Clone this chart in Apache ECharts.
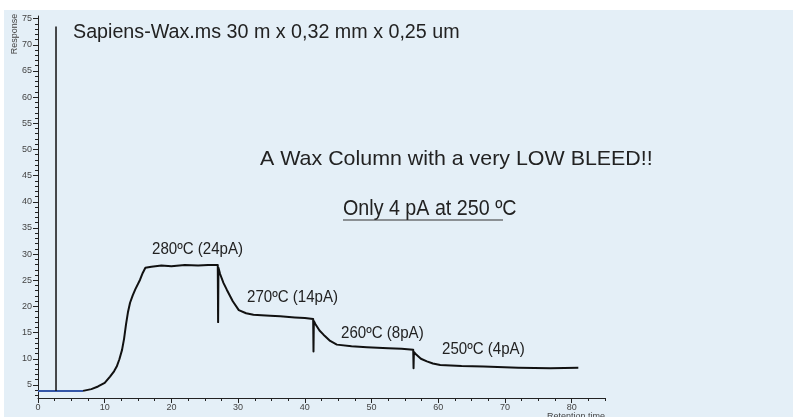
<!DOCTYPE html>
<html>
<head>
<meta charset="utf-8">
<script src="https://cdn.jsdelivr.net/npm/echarts@6/dist/echarts.min.js"></script>
<style>html,body{margin:0;padding:0;background:#fff;}#c{width:793px;height:417px;}</style>
</head>
<body>
<div id="c"></div>
<script>
// ---- data ----
const blueTime = [0, 6.75];
const blueResponse = [3.86, 3.86];
const spikeTime = [2.7, 2.7];
const spikeResponse = [3.86, 73.5];
const retentionTime = [6.75, 8, 9, 10, 10.8, 11.4, 11.8, 12.2, 12.6, 12.9, 13.2, 13.5, 13.8, 14.2, 14.6, 15.3, 15.7, 16.1, 17, 18.5, 20, 22, 24, 25.5, 26.95,
  27.0, 27.05, 27.3, 27.8, 28.3, 29.2, 30.1, 31.2, 32.3, 33.5, 34.8, 36.3, 38.5, 40, 41.25,
  41.3, 41.35, 41.6, 42.2, 42.8, 43.8, 44.8, 47, 49.3, 52.5, 54.5, 56.25,
  56.3, 56.35, 56.7, 57.4, 58.3, 59.2, 60.3, 63.5, 66.8, 72, 76.8, 81.0];
const responseValues = [3.86, 4.2, 4.7, 5.4, 6.6, 7.6, 8.5, 9.9, 11.7, 13.8, 16.6, 19.0, 20.7, 22.1, 23.3, 25.1, 26.4, 27.4, 27.6, 27.8, 27.7, 27.9, 27.8, 27.9, 27.9,
  17.0, 27.4, 26.2, 24.5, 23.2, 21.0, 19.3, 18.7, 18.4, 18.3, 18.2, 18.1, 17.9, 17.8, 17.6,
  11.4, 17.2, 16.6, 15.4, 14.6, 13.4, 12.7, 12.4, 12.2, 12.0, 11.9, 11.7,
  8.2, 11.3, 10.8, 10.0, 9.5, 9.1, 8.8, 8.6, 8.5, 8.3, 8.2, 8.3];
const xTickLabels = [0, 10, 20, 30, 40, 50, 60, 70, 80];
const yTickLabels = [5, 10, 15, 20, 25, 30, 35, 40, 45, 50, 55, 60, 65, 70, 75];
const titleText = 'Sapiens-Wax.ms 30 m x 0,32 mm x 0,25 um';
const headline = 'A Wax Column with a very LOW BLEED!!';
const subline = 'Only 4 pA at 250 ºC';
const stepLabels = ['280ºC (24pA)', '270ºC (14pA)', '260ºC (8pA)', '250ºC (4pA)'];

const yMinor = [];
for (let v = 3; v <= 75; v++) yMinor.push(v);

const zip = (a, b) => a.map((v, i) => [v, b[i]]);
const FONT = '"Liberation Sans", Arial, sans-serif';

const chart = echarts.init(document.getElementById('c'), null, {renderer: 'canvas'});
const axisLabelStyle = {fontFamily: FONT, fontSize: 9, color: '#444'};
const option = {
  backgroundColor: '#ffffff',
  animation: false,
  grid: {left: 38, right: 188, top: 16, bottom: 19, containLabel: false},
  xAxis: [
    {type: 'value', min: 0, max: 85, gridIndex: 0,
     axisLine: {lineStyle: {color: '#222', width: 1}},
     axisTick: {length: 5, customValues: xTickLabels, lineStyle: {color: '#222'}},
     axisLabel: Object.assign({customValues: xTickLabels, margin: 5}, axisLabelStyle),
     splitLine: {show: false}},
    {type: 'value', min: 0, max: 85, interval: 2.5, gridIndex: 0, position: 'bottom',
     axisLine: {show: false},
     axisTick: {length: 3, lineStyle: {color: '#222'}},
     axisLabel: {show: false}, splitLine: {show: false}}
  ],
  yAxis: [
    {type: 'value', min: 2.5, max: 75.5, gridIndex: 0,
     axisLine: {show: true, lineStyle: {color: '#222', width: 1}},
     axisTick: {show: true, length: 5, customValues: yTickLabels, lineStyle: {color: '#222'}},
     axisLabel: Object.assign({customValues: yTickLabels, margin: 6}, axisLabelStyle),
     splitLine: {show: false}},
    {type: 'value', min: 2.5, max: 75.5, gridIndex: 0, position: 'left',
     axisLine: {show: false},
     axisTick: {show: true, length: 3, customValues: yMinor, lineStyle: {color: '#222'}},
     axisLabel: {show: false}, splitLine: {show: false}}
  ],
  series: [
    {type: 'line', xAxisIndex: 0, yAxisIndex: 0, data: zip(blueTime, blueResponse), showSymbol: false,
     lineStyle: {color: '#3456a8', width: 2}, z: 2},
    {type: 'line', xAxisIndex: 0, yAxisIndex: 0, data: zip(spikeTime, spikeResponse), showSymbol: false,
     lineStyle: {color: '#111', width: 1.5}, z: 3},
    {type: 'line', xAxisIndex: 0, yAxisIndex: 0, data: zip(retentionTime, responseValues), showSymbol: false,
     lineStyle: {color: '#111', width: 2, join: 'round'}, z: 3}
  ],
  graphic: [
    {type: 'rect', z: -10, silent: true, shape: {x: 4, y: 10, width: 789, height: 407}, style: {fill: '#e4eff7'}},
    {type: 'text', x: 15, y: 34, rotation: Math.PI / 2, style: {text: 'Response', font: '9px ' + FONT, fill: '#444', textAlign: 'center', textVerticalAlign: 'middle'}},
    {type: 'text', x: 605, y: 412, style: {text: 'Retention time', font: '9px ' + FONT, fill: '#444', textAlign: 'right', textVerticalAlign: 'top'}},
    {type: 'text', x: 73, y: 33, style: {text: titleText, font: '19.7px ' + FONT, fill: '#222', textVerticalAlign: 'middle'}},
    {type: 'text', x: 260, y: 159, scaleY: 0.95, style: {text: headline, font: '21.4px ' + FONT, fill: '#222', textVerticalAlign: 'middle'}},
    {type: 'text', x: 343, y: 209, scaleY: 1.12, style: {text: subline, font: '19.7px ' + FONT, fill: '#222', textVerticalAlign: 'middle'}},
    {type: 'line', shape: {x1: 343, y1: 220, x2: 503, y2: 220}, style: {stroke: '#333', lineWidth: 1.2}},
    {type: 'text', x: 152, y: 249, scaleY: 1.08, style: {text: stepLabels[0], font: '15.1px ' + FONT, fill: '#222', textVerticalAlign: 'middle'}},
    {type: 'text', x: 247, y: 297, scaleY: 1.08, style: {text: stepLabels[1], font: '15.1px ' + FONT, fill: '#222', textVerticalAlign: 'middle'}},
    {type: 'text', x: 341, y: 333, scaleY: 1.08, style: {text: stepLabels[2], font: '15.1px ' + FONT, fill: '#222', textVerticalAlign: 'middle'}},
    {type: 'text', x: 442, y: 349.5, scaleY: 1.08, style: {text: stepLabels[3], font: '15.1px ' + FONT, fill: '#222', textVerticalAlign: 'middle'}}
  ]
};
chart.setOption(option);
</script>
</body>
</html>
